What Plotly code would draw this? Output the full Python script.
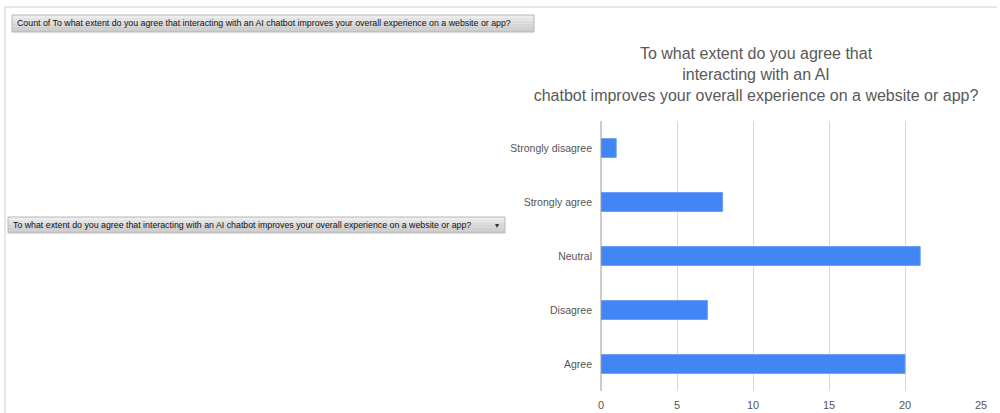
import plotly.graph_objects as go

categories = ["Agree", "Disagree", "Neutral", "Strongly agree", "Strongly disagree"]
counts = [20, 7, 21, 8, 1]
x_ticks = [0, 5, 10, 15, 20, 25]

title_lines = ["To what extent do you agree that",
               "interacting with an AI",
               "chatbot improves your overall experience on a website or app?"]
button_top = "Count of To what extent do you agree that interacting with an AI chatbot improves your overall experience on a website or app?"
button_mid = "To what extent do you agree that interacting with an AI chatbot improves your overall experience on a website or app?"

W, H = 1000, 413
L, R, T, B = 601, 19, 121, 22
PW, PH = W - L - R, H - T - B


def px(x):
    return (x - L) / PW


def py(y):
    return 1 - (y - T) / PH


fig = go.Figure()
fig.add_trace(go.Bar(
    y=categories, x=counts, orientation="h",
    marker=dict(color="#4285f4", line=dict(color="#6a9ef6", width=1)),
    width=0.35, hoverinfo="x+y",
))

shapes = []
# outer border lines
shapes.append(dict(type="line", xref="paper", yref="paper", x0=px(5), x1=px(997), y0=py(7), y1=py(7),
                   line=dict(color="#d0d0d0", width=1)))
shapes.append(dict(type="line", xref="paper", yref="paper", x0=px(5), x1=px(5), y0=py(7), y1=py(413),
                   line=dict(color="#d0d0d0", width=1)))


def button(x0, x1, y0, y1):
    n = 6
    h = (y1 - y0) / n
    cols = ["#ececec", "#e4e4e4", "#dcdcdc", "#d5d5d5", "#cfcfcf", "#c9c9c9"]
    for i in range(n):
        shapes.append(dict(type="rect", xref="paper", yref="paper", x0=px(x0), x1=px(x1),
                           y0=py(y0 + i * h), y1=py(y0 + (i + 1) * h),
                           fillcolor=cols[i], line=dict(width=0), layer="below"))
    shapes.append(dict(type="rect", xref="paper", yref="paper", x0=px(x0), x1=px(x1),
                       y0=py(y0), y1=py(y1), line=dict(color="#b8b8b8", width=1), layer="below"))


button(12, 534, 15, 32)
button(8, 505, 217, 233)

annotations = [
    dict(text=button_top, xref="paper", yref="paper", x=px(15), y=py(23.5), xanchor="left", yanchor="middle",
         showarrow=False, font=dict(family="Liberation Sans", size=8.8, color="#111111")),
    dict(text=button_mid, xref="paper", yref="paper", x=px(11), y=py(225), xanchor="left", yanchor="middle",
         showarrow=False, font=dict(family="Liberation Sans", size=8.8, color="#111111")),
    dict(text="▾", xref="paper", yref="paper", x=px(497), y=py(225), xanchor="center", yanchor="middle",
         showarrow=False, font=dict(family="DejaVu Sans", size=8, color="#333333")),
]

fig.update_layout(
    width=W, height=H,
    margin=dict(l=L, r=R, t=T, b=B, pad=0, autoexpand=False),
    paper_bgcolor="white", plot_bgcolor="white",
    showlegend=False,
    title=dict(text="<br>".join(title_lines), xref="container", yref="container",
               x=756 / W, xanchor="center", y=1 - 59 / H, yanchor="top", automargin=False,
               font=dict(family="Liberation Sans", size=16, color="#595959")),
    xaxis=dict(range=[0, 25], tickvals=x_ticks, showgrid=True, gridcolor="#d9d9d9", gridwidth=1,
               zeroline=True, zerolinecolor="#cccccc", showline=False, automargin=False,
               ticklabelstandoff=6,
               tickfont=dict(family="Liberation Sans", size=11, color="#555555"), ticks="",
               fixedrange=True),
    yaxis=dict(categoryorder="array", categoryarray=categories, showgrid=False, zeroline=False,
               showline=False, ticks="", ticklabelstandoff=8, automargin=False,
               tickfont=dict(family="Liberation Sans", size=10.5, color="#555555"),
               range=[-0.5, 4.5], fixedrange=True),
    shapes=shapes, annotations=annotations,
    bargap=0.65,
)

fig.write_html("out.html")
